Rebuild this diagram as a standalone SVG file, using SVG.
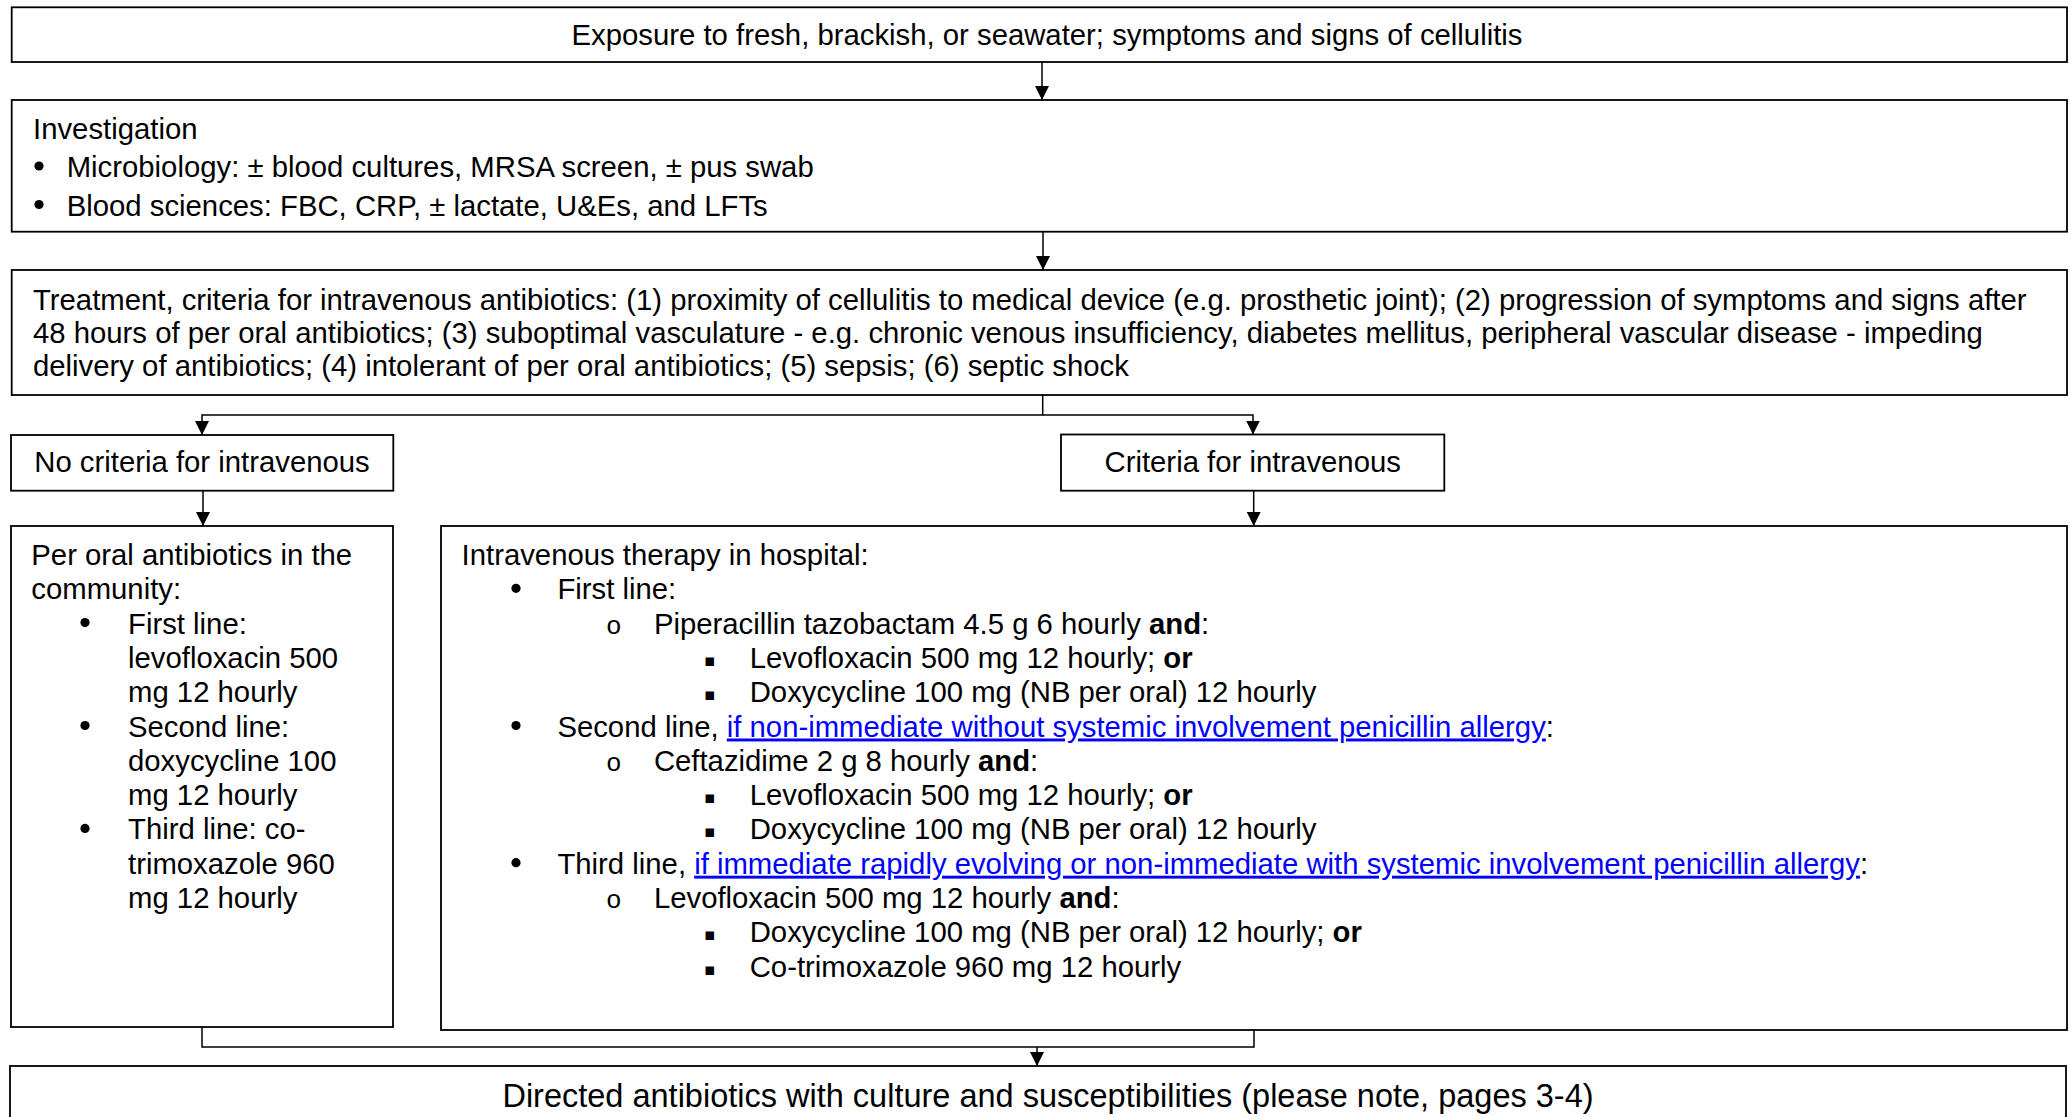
<svg xmlns="http://www.w3.org/2000/svg" width="2071" height="1117" viewBox="0 0 2071 1117">
<defs>
<marker id="arr" markerUnits="userSpaceOnUse" viewBox="0 0 14 14" markerWidth="14" markerHeight="14" refX="14" refY="7" orient="auto"><path d="M0,0 L14,7 L0,14 z" fill="#000"/></marker>
<style>
.box{fill:#fff;stroke:#000;stroke-width:1.8}
.t{font-family:"Liberation Sans",Arial,sans-serif;font-size:29.3px;fill:#000}
.c{text-anchor:middle}
.b{font-weight:bold}
.lnk{fill:#0000FF;text-decoration:underline}
.mono{font-family:"Liberation Mono","Courier New",monospace;font-size:26px}
.sq{font-family:"DejaVu Sans",sans-serif;font-size:17px}
.dot{fill:#000}
.con{fill:none;stroke:#000;stroke-width:1.5}
</style>
</defs>
<rect width="2071" height="1117" fill="#fff"/>

<g id="connectors">
<path class="con" d="M1042,62 V100" marker-end="url(#arr)"/>
<path class="con" d="M1043,232 V270" marker-end="url(#arr)"/>
<path class="con" d="M1042.7,395 V415 H202 V435" marker-end="url(#arr)"/>
<path class="con" d="M1042.7,415 H1253 V434.5" marker-end="url(#arr)"/>
<path class="con" d="M203,491 V526" marker-end="url(#arr)"/>
<path class="con" d="M1253.7,491 V526" marker-end="url(#arr)"/>
<path class="con" d="M202,1027 V1047 H1254 V1030"/>
<path class="con" d="M1037,1047 V1066" marker-end="url(#arr)"/>
</g>

<g id="n1">
<rect class="box" x="11.7" y="7.3" width="2055.3" height="54.7"/>
<text class="t c" x="1047" y="45">Exposure to fresh, brackish, or seawater; symptoms and signs of cellulitis</text>
</g>

<g id="n2">
<rect class="box" x="11.7" y="100" width="2055.3" height="131.7"/>
<text class="t" x="33" y="138.5">Investigation</text>
<circle class="dot" cx="39" cy="166" r="4.6"/>
<text class="t" x="66.7" y="177">Microbiology: ± blood cultures, MRSA screen, ± pus swab</text>
<circle class="dot" cx="39" cy="204.5" r="4.6"/>
<text class="t" x="66.7" y="215.5">Blood sciences: FBC, CRP, ± lactate, U&amp;Es, and LFTs</text>
</g>

<g id="n3">
<rect class="box" x="11.7" y="270" width="2055.3" height="125"/>
<text class="t" x="33" y="309.5">Treatment, criteria for intravenous antibiotics: (1) proximity of cellulitis to medical device (e.g. prosthetic joint); (2) progression of symptoms and signs after</text>
<text class="t" x="33" y="342.8">48 hours of per oral antibiotics; (3) suboptimal vasculature - e.g. chronic venous insufficiency, diabetes mellitus, peripheral vascular disease - impeding</text>
<text class="t" x="33" y="376">delivery of antibiotics; (4) intolerant of per oral antibiotics; (5) sepsis; (6) septic shock</text>
</g>

<g id="n4">
<rect class="box" x="11" y="435" width="382.3" height="55.7"/>
<text class="t c" x="202" y="472">No criteria for intravenous</text>
</g>

<g id="n5">
<rect class="box" x="1061" y="434.5" width="383.3" height="56.2"/>
<text class="t c" x="1252.7" y="472">Criteria for intravenous</text>
</g>

<g id="n6">
<rect class="box" x="11" y="526" width="382" height="501"/>
<text class="t" x="31.3" y="565">Per oral antibiotics in the</text>
<text class="t" x="31.3" y="599.3">community:</text>
<circle class="dot" cx="85" cy="622.6" r="4.6"/>
<text class="t" x="128" y="633.6">First line:</text>
<text class="t" x="128" y="667.9">levofloxacin 500</text>
<text class="t" x="128" y="702.2">mg 12 hourly</text>
<circle class="dot" cx="85" cy="725.5" r="4.6"/>
<text class="t" x="128" y="736.5">Second line:</text>
<text class="t" x="128" y="770.8">doxycycline 100</text>
<text class="t" x="128" y="805.1">mg 12 hourly</text>
<circle class="dot" cx="85" cy="828.4" r="4.6"/>
<text class="t" x="128" y="839.4">Third line: co-</text>
<text class="t" x="128" y="873.7">trimoxazole 960</text>
<text class="t" x="128" y="908">mg 12 hourly</text>
</g>

<g id="n7">
<rect class="box" x="441" y="526" width="1626" height="504"/>
<text class="t" x="461.6" y="565">Intravenous therapy in hospital:</text>
<circle class="dot" cx="516" cy="588.3" r="4.6"/>
<text class="t" x="557.4" y="599.3">First line:</text>
<text class="t mono" x="606" y="633.6">o</text>
<text class="t" x="653.9" y="633.6">Piperacillin tazobactam 4.5 g 6 hourly <tspan class="b">and</tspan>:</text>
<text class="t sq" x="704" y="665.9">▪</text>
<text class="t" x="749.7" y="667.9">Levofloxacin 500 mg 12 hourly; <tspan class="b">or</tspan></text>
<text class="t sq" x="704" y="700.2">▪</text>
<text class="t" x="749.7" y="702.2">Doxycycline 100 mg (NB per oral) 12 hourly</text>
<circle class="dot" cx="516" cy="725.5" r="4.6"/>
<text class="t" x="557.4" y="736.5">Second line, <tspan class="lnk">if non-immediate without systemic involvement penicillin allergy</tspan>:</text>
<text class="t mono" x="606" y="770.8">o</text>
<text class="t" x="653.9" y="770.8">Ceftazidime 2 g 8 hourly <tspan class="b">and</tspan>:</text>
<text class="t sq" x="704" y="803.1">▪</text>
<text class="t" x="749.7" y="805.1">Levofloxacin 500 mg 12 hourly; <tspan class="b">or</tspan></text>
<text class="t sq" x="704" y="837.4">▪</text>
<text class="t" x="749.7" y="839.4">Doxycycline 100 mg (NB per oral) 12 hourly</text>
<circle class="dot" cx="516" cy="862.7" r="4.6"/>
<text class="t" x="557.4" y="873.7">Third line, <tspan class="lnk">if immediate rapidly evolving or non-immediate with systemic involvement penicillin allergy</tspan>:</text>
<text class="t mono" x="606" y="908">o</text>
<text class="t" x="653.9" y="908">Levofloxacin 500 mg 12 hourly <tspan class="b">and</tspan>:</text>
<text class="t sq" x="704" y="940.3">▪</text>
<text class="t" x="749.7" y="942.3">Doxycycline 100 mg (NB per oral) 12 hourly; <tspan class="b">or</tspan></text>
<text class="t sq" x="704" y="974.6">▪</text>
<text class="t" x="749.7" y="976.6">Co-trimoxazole 960 mg 12 hourly</text>
</g>

<g id="n8">
<rect class="box" x="10" y="1066" width="2056" height="100"/>
<text class="t c" x="1048" y="1107" style="font-size:32.5px">Directed antibiotics with culture and susceptibilities (please note, pages 3-4)</text>
</g>
</svg>
